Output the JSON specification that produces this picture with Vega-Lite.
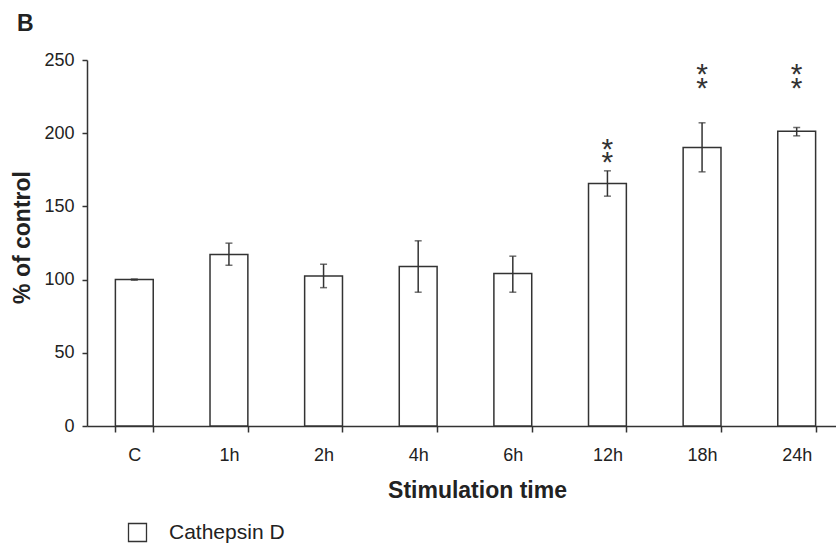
{
  "$schema": "https://vega.github.io/schema/vega-lite/v6.json",
  "autosize": {"type": "none"},
  "width": 749,
  "height": 366,
  "padding": {"left": 87, "top": 60, "right": 0, "bottom": 119},
  "background": "white",
  "title": {"text": "B", "anchor": "start", "frame": "group", "dx": -70, "offset": 15, "baseline": "top", "fontSize": 23, "fontWeight": "bold", "font": "Liberation Sans", "color": "#222"},
  "config": {
    "view": {"stroke": null},
    "font": "Liberation Sans",
    "axis": {"domainColor": "#333", "tickColor": "#333", "domainWidth": 1.5, "tickWidth": 1.5, "labelColor": "#222", "titleColor": "#222", "labelFontSize": 18, "titleFontSize": 23, "titleFontWeight": "bold", "grid": false, "labelFont": "Liberation Sans", "titleFont": "Liberation Sans"}
  },
  "datasets": {
    "main": [
      {"time": "C", "value": 100, "lo": 99.6, "hi": 100.4, "series": "Cathepsin D"},
      {"time": "1h", "value": 117.1, "lo": 109.8, "hi": 124.9, "series": "Cathepsin D"},
      {"time": "2h", "value": 102.5, "lo": 94.5, "hi": 110.5, "series": "Cathepsin D"},
      {"time": "4h", "value": 108.9, "lo": 91.4, "hi": 126.5, "series": "Cathepsin D"},
      {"time": "6h", "value": 104.1, "lo": 91.4, "hi": 116.0, "series": "Cathepsin D"},
      {"time": "12h", "value": 165.6, "lo": 157.0, "hi": 174.3, "series": "Cathepsin D"},
      {"time": "18h", "value": 190.2, "lo": 173.6, "hi": 207.1, "series": "Cathepsin D"},
      {"time": "24h", "value": 201.4, "lo": 198.2, "hi": 203.9, "series": "Cathepsin D"}
    ],
    "stars": [
      {"time": "12h", "level": 194.3, "mark": "*"},
      {"time": "12h", "level": 184.8, "mark": "*"},
      {"time": "18h", "level": 245.2, "mark": "*"},
      {"time": "18h", "level": 235.4, "mark": "*"},
      {"time": "24h", "level": 245.2, "mark": "*"},
      {"time": "24h", "level": 235.4, "mark": "*"}
    ]
  },
  "layer": [
    {
      "data": {"name": "main"},
      "mark": {"type": "bar", "stroke": "#333", "strokeWidth": 1.5},
      "encoding": {
        "x": {
          "field": "time", "type": "nominal",
          "scale": {"domain": ["C", "1h", "2h", "4h", "6h", "12h", "18h", "24h"], "range": [0, 757], "paddingInner": 0.6, "paddingOuter": 0.3},
          "axis": {"title": "Stimulation time", "labelAngle": 0, "tickBand": "extent", "tickSize": 6, "labelPadding": 14, "titleX": 390, "titleY": 71, "titleAlign": "center", "titleBaseline": "alphabetic", "titleAnchor": null}
        },
        "y": {
          "field": "value", "type": "quantitative",
          "scale": {"domain": [0, 250], "nice": false},
          "axis": {"title": "% of control", "values": [0, 50, 100, 150, 200, 250], "tickSize": 5, "labelPadding": 8, "titleX": -65, "titleY": 177, "titleAngle": -90, "titleAlign": "center", "titleBaseline": "middle"}
        },
        "fill": {
          "field": "series", "type": "nominal",
          "scale": {"domain": ["Cathepsin D"], "range": ["white"]},
          "legend": {"title": null, "orient": "none", "legendX": 40, "legendY": 462, "padding": 0, "symbolType": "square", "symbolSize": 324, "symbolStrokeColor": "#333", "symbolStrokeWidth": 1.3, "labelFontSize": 21, "labelColor": "#222", "labelOffset": 21, "labelFont": "Liberation Sans"}
        }
      }
    },
    {
      "data": {"name": "main"},
      "mark": {"type": "rule", "color": "#333", "strokeWidth": 1.5},
      "encoding": {
        "x": {"field": "time", "type": "nominal"},
        "y": {"field": "lo", "type": "quantitative"},
        "y2": {"field": "hi"}
      }
    },
    {
      "data": {"name": "main"},
      "mark": {"type": "tick", "color": "#333", "size": 7, "thickness": 1.5},
      "encoding": {
        "x": {"field": "time", "type": "nominal"},
        "y": {"field": "lo", "type": "quantitative"}
      }
    },
    {
      "data": {"name": "main"},
      "mark": {"type": "tick", "color": "#333", "size": 7, "thickness": 1.5},
      "encoding": {
        "x": {"field": "time", "type": "nominal"},
        "y": {"field": "hi", "type": "quantitative"}
      }
    },
    {
      "data": {"name": "stars"},
      "mark": {"type": "text", "font": "Liberation Sans", "fontSize": 30, "baseline": "alphabetic", "dy": 17, "color": "#333"},
      "encoding": {
        "x": {"field": "time", "type": "nominal"},
        "y": {"field": "level", "type": "quantitative"},
        "text": {"field": "mark"}
      }
    }
  ]
}
